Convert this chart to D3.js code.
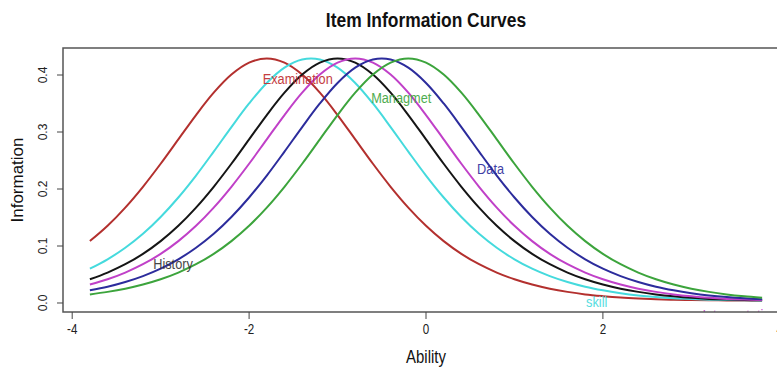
<!DOCTYPE html>
<html><head><meta charset="utf-8">
<script src="https://cdn.jsdelivr.net/npm/d3@7"></script>
<style>
html,body{margin:0;padding:0;background:#fff;}
svg{display:block;font-family:"Liberation Sans",Arial,sans-serif;}
</style></head>
<body><svg id="chart" width="777" height="368"></svg>
<script>
const ability = [-3.8,-3.6,-3.4,-3.2,-3.0,-2.8,-2.6,-2.4,-2.2,-2.0,-1.8,-1.6,-1.4,-1.2,-1.0,-0.8,-0.6,-0.4,-0.2,0.0,
  0.2,0.4,0.6,0.8,1.0,1.2,1.4,1.6,1.8,2.0,2.2,2.4,2.6,2.8,3.0,3.2,3.4,3.6,3.8];

const examination = [0.1086,0.1355,0.1674,0.2039,0.2443,0.2871,0.3298,0.3690,0.4008,0.4217,0.4290,0.4217,0.4008,0.3690,0.3298,0.2871,0.2443,0.2039,0.1674,0.1355,
  0.1086,0.0862,0.0680,0.0534,0.0416,0.0324,0.0251,0.0195,0.0151,0.0120,0.0095,0.0078,0.0066,0.0058,0.0052,0.0048,0.0045,0.0043,0.0042];
const skill = [0.0602,0.0767,0.0969,0.1214,0.1509,0.1851,0.2236,0.2656,0.3087,0.3501,0.3861,0.4129,0.4272,0.4272,0.4129,0.3861,0.3501,0.3087,0.2656,0.2236,
  0.1851,0.1509,0.1214,0.0969,0.0767,0.0602,0.0472,0.0368,0.0285,0.0222,0.0172,0.0133,0.0104,0.0082,0.0068,0.0058,0.0051,0.0047,0.0045];
const history = [0.0416,0.0534,0.0680,0.0862,0.1086,0.1355,0.1674,0.2039,0.2443,0.2871,0.3298,0.3690,0.4008,0.4217,0.4290,0.4217,0.4008,0.3690,0.3298,0.2871,
  0.2443,0.2039,0.1674,0.1355,0.1086,0.0862,0.0680,0.0534,0.0416,0.0324,0.0251,0.0195,0.0151,0.0117,0.0090,0.0072,0.0060,0.0052,0.0048];
const interpretation = [0.0324,0.0416,0.0534,0.0680,0.0862,0.1086,0.1355,0.1674,0.2039,0.2443,0.2871,0.3298,0.3690,0.4008,0.4217,0.4290,0.4217,0.4008,0.3690,0.3298,
  0.2871,0.2443,0.2039,0.1674,0.1355,0.1086,0.0862,0.0680,0.0534,0.0416,0.0324,0.0251,0.0195,0.0151,0.0117,0.0090,0.0072,0.0060,0.0052];
const data = [0.0222,0.0285,0.0368,0.0472,0.0602,0.0767,0.0969,0.1214,0.1509,0.1851,0.2236,0.2656,0.3087,0.3501,0.3861,0.4129,0.4272,0.4272,0.4129,0.3861,
  0.3501,0.3087,0.2656,0.2236,0.1851,0.1509,0.1214,0.0969,0.0767,0.0602,0.0472,0.0368,0.0285,0.0222,0.0172,0.0133,0.0104,0.0082,0.0066];
const managmet = [0.0151,0.0195,0.0251,0.0324,0.0416,0.0534,0.0680,0.0862,0.1086,0.1355,0.1674,0.2039,0.2443,0.2871,0.3298,0.3690,0.4008,0.4217,0.4290,0.4217,
  0.4008,0.3690,0.3298,0.2871,0.2443,0.2039,0.1674,0.1355,0.1086,0.0862,0.0680,0.0534,0.0416,0.0324,0.0251,0.0195,0.0151,0.0117,0.0090];

const seriesNames = ["Examination","skill","History","Interpretation","Data","Managmet"];
const seriesValues = [examination, skill, history, interpretation, data, managmet];
const seriesColors = ["#b3302e","#45dadd","#151515","#c040c8","#2c2c9c","#3ca43c"];
const labelColors  = ["#be2a2e","#45dadd","#333333","#c040c8","#2c2c9c","#3ca43c"];
// label anchor positions in data units (ability, information)
const labelAbility = [-1.45, 1.93, -2.86, 3.55, 0.73, -0.28];
const labelInfo    = [0.393, 0.001, 0.069, -0.0215, 0.235, 0.360];

const xTicks = [-4,-2,0,2,4];
const yTicks = [0.0,0.1,0.2,0.3,0.4];
const xDomain = [-4.104, 4.104];
const yDomain = [-0.0158, 0.4474];

const svg = d3.select("#chart");
const L = 63, R = 789, T = 48, B = 312;
const x = d3.scaleLinear().domain(xDomain).range([L, R]);
const y = d3.scaleLinear().domain(yDomain).range([B, T]);
const SX = 0.83;

svg.append("defs").append("clipPath").attr("id","plotclip")
  .append("rect").attr("x",L).attr("y",T).attr("width",R-L).attr("height",B-T);

// title
svg.append("text").attr("transform",`translate(${(L+R)/2},27) scale(${SX},1)`)
  .attr("text-anchor","middle").attr("font-size",21).attr("font-weight","bold")
  .attr("fill","#111").text("Item Information Curves");

const plot = svg.append("g").attr("clip-path","url(#plotclip)");
const line = d3.line().x((d,i)=>x(ability[i])).y(d=>y(d)).curve(d3.curveCatmullRom);

seriesValues.forEach((vals,k)=>{
  plot.append("path").datum(vals).attr("d",line)
    .attr("fill","none").attr("stroke",seriesColors[k]).attr("stroke-width",2);
});

seriesNames.forEach((name,k)=>{
  plot.append("text")
    .attr("transform",`translate(${x(labelAbility[k])},${y(labelInfo[k])+5}) scale(0.85,1)`)
    .attr("text-anchor","middle").attr("font-size",15)
    .attr("fill",labelColors[k]).attr("opacity",0.9).text(name);
});

// box
svg.append("rect").attr("x",L).attr("y",T).attr("width",R-L).attr("height",B-T)
  .attr("fill","none").attr("stroke","#555").attr("stroke-width",1.5);

// x axis
const xg = svg.append("g");
xTicks.forEach(t=>{
  xg.append("line").attr("x1",x(t)).attr("x2",x(t)).attr("y1",B).attr("y2",B+7)
    .attr("stroke","#444").attr("stroke-width",1);
  xg.append("text").attr("transform",`translate(${x(t)},334) scale(${SX},1)`)
    .attr("text-anchor","middle").attr("font-size",14).attr("fill","#222").text(t);
});
// y axis
const yg = svg.append("g");
yTicks.forEach(t=>{
  yg.append("line").attr("x1",L-6).attr("x2",L).attr("y1",y(t)).attr("y2",y(t))
    .attr("stroke","#444").attr("stroke-width",1);
  yg.append("text").attr("transform",`translate(47,${y(t)}) rotate(-90)`)
    .attr("text-anchor","middle").attr("font-size",12).attr("fill","#222").text(d3.format(".1f")(t));
});

svg.append("text").attr("transform",`translate(${(L+R)/2},363) scale(${SX},1)`)
  .attr("text-anchor","middle").attr("font-size",18).attr("fill","#111").text("Ability");
svg.append("text").attr("transform",`translate(23,${(T+B)/2}) rotate(-90)`)
  .attr("text-anchor","middle").attr("font-size",17).attr("fill","#111").text("Information");
</script></body></html>
